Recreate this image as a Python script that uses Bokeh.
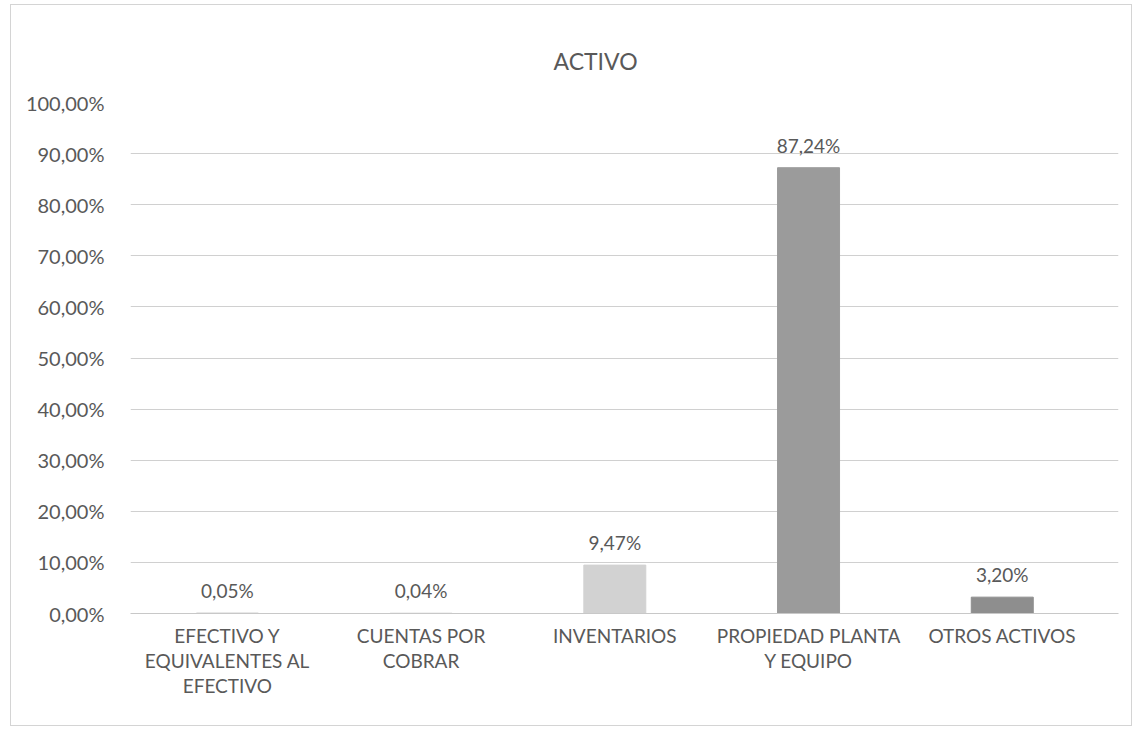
from bokeh.plotting import figure
from bokeh.models import ColumnDataSource, Range1d, FixedTicker
from bokeh.core.properties import value
from bokeh.embed import file_html
from bokeh.resources import INLINE

categories = ["EFECTIVO Y\nEQUIVALENTES AL\nEFECTIVO", "CUENTAS POR\nCOBRAR", "INVENTARIOS",
              "PROPIEDAD PLANTA\nY EQUIPO", "OTROS ACTIVOS"]
values = [0.05, 0.04, 9.47, 87.24, 3.20]
bar_colors = ["#a9a9a9", "#bdbdbd", "#d2d2d2", "#9b9b9b", "#8e8e8e"]
y_ticks = [0, 10, 20, 30, 40, 50, 60, 70, 80, 90, 100]
y_tick_labels = ["0,00%", "10,00%", "20,00%", "30,00%", "40,00%", "50,00%",
                 "60,00%", "70,00%", "80,00%", "90,00%", "100,00%"]

FONT = "Lato"
TXT = "#595959"

idx = list(range(len(categories)))
labels = [f"{v:.2f}%".replace(".", ",") for v in values]
src = ColumnDataSource(dict(x=idx, top=values, color=bar_colors, label=labels))

p = figure(width=1122, height=722, output_backend="svg", toolbar_location=None,
           x_range=Range1d(-0.5, 4.6), y_range=Range1d(0, 100),
           min_border_left=119, min_border_right=15, min_border_top=97, min_border_bottom=114)
p.styles = {"border": "1px solid #d4d4d4", "box-sizing": "border-box",
            "margin-left": "10px", "margin-top": "4px"}

p.title.text = "ACTIVO"
p.title.align = "left"
p.title.offset = 423
p.title.text_font = FONT
p.title.text_font_size = "23px"
p.title.text_font_style = "normal"
p.title.text_color = TXT
p.title.standoff = 55

p.vbar(x="x", top="top", width=0.32, color="color", source=src)
p.text(x="x", y="top", text="label", source=src, text_align="center",
       text_baseline="bottom", y_offset=-11, text_font=value(FONT),
       text_font_size="19px", text_color=TXT)

p.outline_line_color = None
p.xgrid.grid_line_color = None
p.ygrid.grid_line_color = "#d0d0d0"
p.ygrid.grid_line_width = 1

p.yaxis.ticker = FixedTicker(ticks=y_ticks)
p.yaxis.major_label_overrides = {t: l for t, l in zip(y_ticks, y_tick_labels)}
p.yaxis.axis_line_color = None
p.yaxis.major_tick_line_color = None
p.yaxis.minor_tick_line_color = None
p.yaxis.major_label_standoff = 20
p.yaxis.major_label_text_font = FONT
p.yaxis.major_label_text_font_size = "20px"
p.yaxis.major_label_text_color = TXT

p.xaxis.ticker = FixedTicker(ticks=idx)
p.xaxis.major_label_overrides = {i: c for i, c in zip(idx, categories)}
p.xaxis.axis_line_color = "#c8c8c8"
p.xaxis.major_tick_line_color = None
p.xaxis.minor_tick_line_color = None
p.xaxis.major_label_standoff = 4
p.xaxis.major_label_text_font = FONT
p.xaxis.major_label_text_font_size = "19px"
p.xaxis.major_label_text_color = TXT
p.xaxis.major_label_text_line_height = 1.1

open("out.html", "w").write(file_html(p, INLINE))
